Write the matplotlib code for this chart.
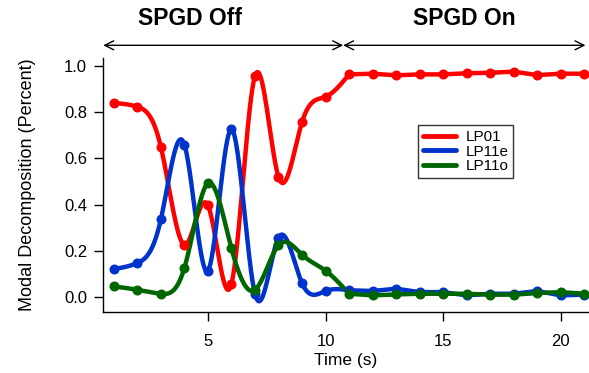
import numpy as np
import matplotlib
matplotlib.use("Agg")
import matplotlib.pyplot as plt

plt.rcParams['font.family'] = ['Liberation Sans', 'DejaVu Sans']

time_s = [1, 2, 3, 4, 5, 6, 7, 8, 9, 10, 11, 12, 13, 14, 15, 16, 17, 18, 19, 20, 21]
lp01 = [0.840, 0.824, 0.650, 0.226, 0.397, 0.057, 0.957, 0.520, 0.757, 0.867,
        0.964, 0.967, 0.960, 0.964, 0.964, 0.969, 0.971, 0.976, 0.961, 0.967, 0.967]
lp11e = [0.121, 0.147, 0.336, 0.660, 0.114, 0.726, 0.014, 0.257, 0.060, 0.026,
         0.029, 0.026, 0.036, 0.021, 0.021, 0.007, 0.014, 0.014, 0.026, 0.007, 0.010]
lp11o = [0.046, 0.031, 0.014, 0.126, 0.493, 0.211, 0.031, 0.224, 0.183, 0.114,
         0.014, 0.007, 0.011, 0.014, 0.014, 0.014, 0.010, 0.010, 0.017, 0.021, 0.014]
series_names = ["LP01", "LP11e", "LP11o"]
colors = ["#FF0000", "#0033CC", "#006600"]
phase_labels = ["SPGD Off", "SPGD On"]


def natural_spline(x, y, xs):
    x = np.asarray(x, float); y = np.asarray(y, float)
    n = len(x)
    h = np.diff(x)
    A = np.zeros((n, n)); b = np.zeros(n)
    A[0, 0] = 1; A[-1, -1] = 1
    for i in range(1, n - 1):
        A[i, i - 1] = h[i - 1]
        A[i, i] = 2 * (h[i - 1] + h[i])
        A[i, i + 1] = h[i]
        b[i] = 3 * ((y[i + 1] - y[i]) / h[i] - (y[i] - y[i - 1]) / h[i - 1])
    c = np.linalg.solve(A, b)
    bb = np.zeros(n - 1); d = np.zeros(n - 1)
    for i in range(n - 1):
        bb[i] = (y[i + 1] - y[i]) / h[i] - h[i] * (2 * c[i] + c[i + 1]) / 3
        d[i] = (c[i + 1] - c[i]) / (3 * h[i])
    idx = np.clip(np.searchsorted(x, xs) - 1, 0, n - 2)
    dx = xs - x[idx]
    return y[idx] + bb[idx] * dx + c[idx] * dx ** 2 + d[idx] * dx ** 3


fig = plt.figure(figsize=(5.89, 3.73), dpi=100)
ax = fig.add_axes([103 / 589, 61 / 373, 486 / 589, 254 / 373])

t = np.array(time_s, float)
split = 11  # spline through SPGD-off points, straight segments after
for name, vals, col in zip(series_names, [lp01, lp11e, lp11o], colors):
    v = np.array(vals, float)
    off = t <= split
    xs = np.linspace(t[off][0], t[off][-1], 500)
    ax.plot(xs, natural_spline(t[off], v[off], xs), color=col, lw=3.2,
            solid_capstyle="round", label=name, zorder=3)
    on = t >= split
    ax.plot(t[on], v[on], color=col, lw=3.2, solid_capstyle="round", zorder=3)
    ax.plot(t, v, "o", color=col, ms=6.2, zorder=4)

ax.set_xlim(0.54, 21.2)
ax.set_ylim(-0.065, 1.035)
ax.set_xticks([5, 10, 15, 20])
ax.set_yticks([0.0, 0.2, 0.4, 0.6, 0.8, 1.0])
ax.set_yticklabels([f"{v:.1f}" for v in [0.0, 0.2, 0.4, 0.6, 0.8, 1.0]])
for s in ["top", "right"]:
    ax.spines[s].set_visible(False)
for s in ["left", "bottom"]:
    ax.spines[s].set_linewidth(1.0)
ax.tick_params(direction="out", length=6.5, width=1, labelsize=12, pad=5)
ax.tick_params(axis="x", pad=9)
ax.set_xlabel("Time (s)", fontsize=12.5, labelpad=3)
ax.set_ylabel("Modal Decomposition (Percent)", fontsize=13, labelpad=20)

# phase arrows
ay = 1.09
for x0, x1 in [(0.55, 10.75), (10.75, 21.05)]:
    ax.annotate("", xy=(x1, ay), xytext=(x0, ay), xycoords="data",
                arrowprops=dict(arrowstyle="<->", lw=1.0, color="black",
                                mutation_scale=16, shrinkA=0, shrinkB=0),
                annotation_clip=False)
ax.text(4.25, 1.205, phase_labels[0], fontsize=16.5, fontweight="bold",
        ha="center", va="center", clip_on=False)
ax.text(15.9, 1.205, phase_labels[1], fontsize=16.5, fontweight="bold",
        ha="center", va="center", clip_on=False)

leg = ax.legend(loc="upper left", bbox_to_anchor=(0.648, 0.735), fontsize=11,
                frameon=True, fancybox=False, handlelength=2.2,
                borderpad=0.3, labelspacing=0.05, handletextpad=0.6,
                borderaxespad=0)
leg.get_frame().set_edgecolor("black")
leg.get_frame().set_linewidth(1.0)
for line in leg.get_lines():
    line.set_linewidth(3.5)

fig.savefig("out.png", dpi=100)
